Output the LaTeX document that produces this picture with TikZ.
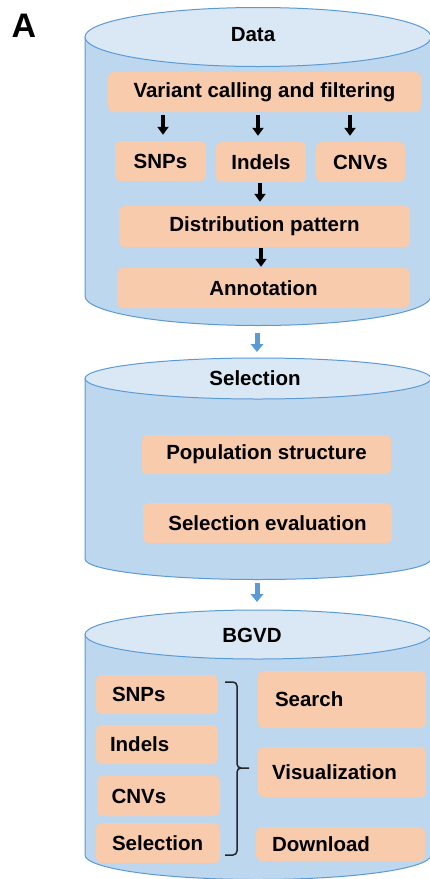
\documentclass[tikz,border=0pt]{standalone}
\usepackage{fontspec}
\setmainfont{Liberation Sans}
\usetikzlibrary{arrows.meta}
\definecolor{cylbody}{HTML}{BDD7EE}
\definecolor{cyltop}{HTML}{DAE8F5}
\definecolor{cyledge}{HTML}{5B9BD5}
\definecolor{boxfill}{HTML}{F8CBAD}
\definecolor{arrblue}{HTML}{5B9BD5}
\definecolor{brcol}{HTML}{262626}
\newcommand\drawcyl[4]{%
  \fill[cylbody] (#1-173,-#2) -- (#1-173,-#3) arc[start angle=180,end angle=360,x radius=173,y radius=#4] -- (#1+173,-#2) -- cycle;
  \draw[cyledge,line width=1pt] (#1-173,-#2) -- (#1-173,-#3) arc[start angle=180,end angle=360,x radius=173,y radius=#4] -- (#1+173,-#2);
  \filldraw[fill=cyltop,draw=cyledge,line width=1pt] (#1,-#2) ellipse[x radius=173,y radius=#4];
}
\begin{document}
\begin{tikzpicture}[x=1pt,y=1pt,
  txt/.style={font=\fontsize{20.5}{24}\selectfont\bfseries},
  bx/.style={txt,fill=boxfill,rounded corners=6pt,inner sep=0pt,align=center},
  lbx/.style={txt,fill=boxfill,rounded corners=6pt,inner ysep=0pt,align=left},
  blk/.style={line width=3.2pt,black,-{Triangle[width=11pt,length=8pt]}},
  bluearr/.style={line width=5pt,arrblue,-{Triangle[width=12.5pt,length=8pt]}},
  brc/.style={line width=1.5pt,brcol}]
\useasboundingbox (0,0) rectangle (430,-879);
\fill[white] (0,0) rectangle (430,-879);

\node[font=\fontsize{34}{40}\selectfont\bfseries] (lab) at (24,-26) {A};

% cylinders
\drawcyl{258}{37}{296}{29.5}
\drawcyl{258}{378.5}{559}{20.5}
\drawcyl{258}{634.5}{855}{24.5}

\node[txt] (t1) at (253,-35) {Data};
\node[txt] (t2) at (255,-378) {Selection};
\node[txt] (t3) at (252,-635) {BGVD};

\coordinate (c1b) at (257,-325);
\coordinate (c2t) at (257,-358);
\coordinate (c2b) at (257,-580);
\coordinate (c3t) at (257,-609);

% Data boxes
\node[bx,minimum width=313,minimum height=40] (var) at (264.5,-92) {Variant calling and filtering};
\node[bx,minimum width=91,minimum height=40] (snp1) at (160.5,-161) {SNPs};
\node[bx,minimum width=90,minimum height=40] (ind1) at (261,-162) {Indels};
\node[bx,minimum width=89,minimum height=40] (cnv1) at (360.5,-162) {CNVs};
\node[bx,minimum width=291,minimum height=41] (dist) at (264.5,-226.5) {Distribution pattern};
\node[bx,minimum width=293,minimum height=40] (ann) at (263.5,-288) {Annotation};

\coordinate (x1) at (163,0);
\coordinate (x2) at (258,0);
\coordinate (x3) at (350,0);
\coordinate (x4) at (260,0);
\coordinate (x5) at (261,0);
\draw[blk,shorten <=3pt,shorten >=6pt] (var.south -| x1) -- (snp1.north -| x1);
\draw[blk,shorten <=3pt,shorten >=6pt] (var.south -| x2) -- (ind1.north -| x2);
\draw[blk,shorten <=3pt,shorten >=6pt] (var.south -| x3) -- (cnv1.north -| x3);
\draw[blk,shorten <=1pt,shorten >=4pt] (ind1.south -| x4) -- (dist.north -| x4);
\draw[blk,shorten <=1pt,shorten >=1pt] (dist.south -| x5) -- (ann.north -| x5);

% Selection boxes
\node[bx,minimum width=249,minimum height=39] (pop) at (266.5,-454.5) {Population structure};
\node[bx,minimum width=249,minimum height=40] (sev) at (267.5,-523) {Selection evaluation};

% BGVD boxes
\node[lbx,inner xsep=16pt,text width=90pt,minimum height=39] (snp2) at (157,-694.5) {SNPs};
\node[lbx,inner xsep=14pt,text width=94pt,minimum height=39] (ind2) at (157,-744.5) {Indels};
\node[lbx,inner xsep=14.5pt,text width=94pt,minimum height=40] (cnv2) at (158.5,-796) {CNVs};
\node[lbx,inner xsep=16pt,text width=92pt,minimum height=40] (sel2) at (158,-843) {Selection};
\node[lbx,inner xsep=17pt,text width=134pt,minimum height=57] (srch) at (342,-699.5) {Search};
\node[lbx,inner xsep=14pt,text width=140pt,minimum height=50] (vis) at (342,-772) {Visualization};
\node[lbx,inner xsep=16pt,text width=137pt,minimum height=34] (dl) at (340.5,-844) {Download};

% brace
\draw[brc] (225,-682) -- (233,-682) to[out=0,in=90] (237,-686) -- (237,-764) to[out=-90,in=180] (241,-768) -- (249,-768);
\draw[brc] (241,-768) to[out=180,in=90] (237,-772) -- (237,-851) to[out=-90,in=0] (233,-855) -- (225,-855);

% blue arrows
\draw[bluearr,shorten <=8pt,shorten >=6pt] (c1b) -- (c2t);
\draw[bluearr,shorten <=3pt,shorten >=7pt] (c2b) -- (c3t);
\end{tikzpicture}
\end{document}
